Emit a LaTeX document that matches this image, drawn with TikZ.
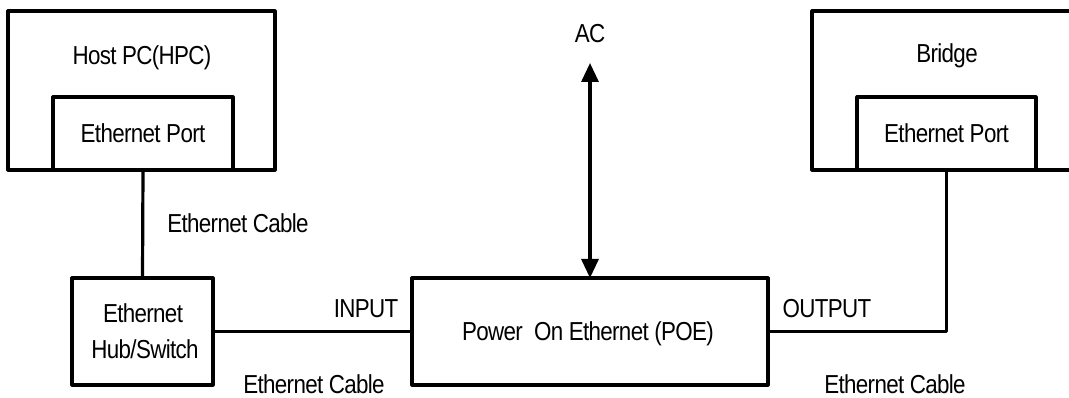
\documentclass[tikz,border=0pt]{standalone}
\usepackage{fontspec}
\setmainfont{Liberation Sans}[FakeStretch=0.86,LetterSpace=-2.5]
\usetikzlibrary{arrows.meta}
\tikzset{
  box/.style={draw, line width=3.2pt, line join=round, inner sep=0pt, outer sep=0pt},
  lbl/.style={anchor=base, inner sep=0pt, font=\fontsize{26}{30}\selectfont},
  wire/.style={line width=3.2pt, line join=round},
  acarrow/.style={line width=3.2pt, {Triangle[length=19pt,width=17pt]}-{Triangle[length=19pt,width=17pt]}}
}
\begin{document}
\begin{tikzpicture}[x=1pt,y=-1pt]
\useasboundingbox (0,0) rectangle (1069,398);
% boxes
\node[box, minimum width=267pt, minimum height=159pt] (hostpc) at (141.5,90.5) {};
\node[box, minimum width=180pt, minimum height=73pt] (hostport) at (143,133.5) {};
\node[box, minimum width=280pt, minimum height=159pt] (bridge) at (952,90.5) {};
\node[box, minimum width=179pt, minimum height=73pt] (bridgeport) at (946.5,133.5) {};
\node[box, minimum width=141pt, minimum height=107pt] (hub) at (142.5,331.5) {};
\node[box, minimum width=356pt, minimum height=107pt] (poe) at (590,331.5) {};
% labels
\node[lbl] (thost) at (142,65) {Host PC(HPC)};
\node[lbl] (tport1) at (143,143) {Ethernet Port};
\node[lbl] (tbridge) at (947,63) {Bridge};
\node[lbl] (tport2) at (946.5,143) {Ethernet Port};
\node[lbl] (tac) at (590,43) {AC};
\node[lbl] (tcab1) at (238,233) {Ethernet Cable};
\node[lbl] (thub1) at (143,323) {Ethernet};
\node[lbl] (thub2) at (145,358) {Hub/Switch};
\node[lbl] (tin) at (366,317) {INPUT};
\node[lbl] (tpoe) at (588,340) {Power\ \ On Ethernet (POE)};
\node[lbl] (tout) at (827,317) {OUTPUT};
\node[lbl] (tcab2) at (314,393) {Ethernet Cable};
\node[lbl] (tcab3) at (895,393) {Ethernet Cable};
% connectors
\coordinate (actop) at (590,63);
\draw[wire] (hostport.south) -- (hub.north);
\draw[wire] (hub.east) -- (poe.west);
\draw[wire] (poe.east) -| (bridgeport.south);
\draw[acarrow] (actop) -- (poe.north);
\end{tikzpicture}
\end{document}
